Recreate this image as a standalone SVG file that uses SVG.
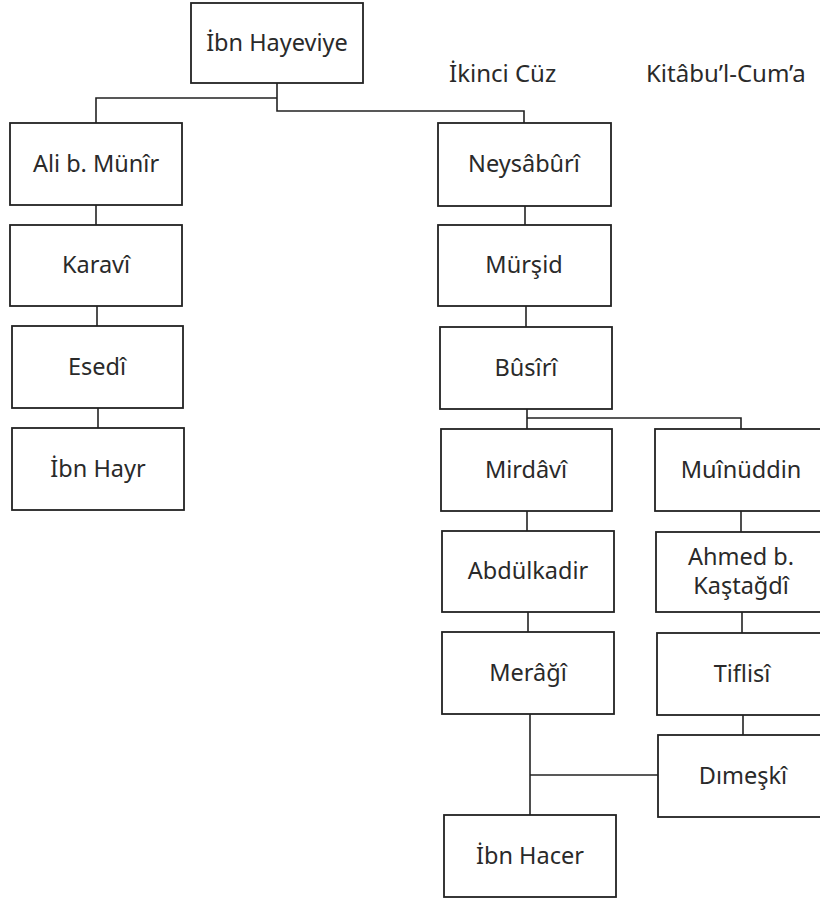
<svg xmlns="http://www.w3.org/2000/svg" width="820" height="900" viewBox="0 0 820 900">
<style>
.box{fill:#fff;stroke:#222;stroke-width:1.8}
.lbl{font-family:"Noto Sans","Open Sans",sans-serif;font-size:23.5px;fill:#2a2a2a;text-anchor:middle}
.hdr{font-family:"Noto Sans","Open Sans",sans-serif;font-size:24px;fill:#2a2a2a}
.con{fill:none;stroke:#222;stroke-width:1.6}
</style>
<rect width="820" height="900" fill="#fff"/>
<g id="connectors">
<path class="con" d="M277 83 V111 H524 V123"/>
<path class="con" d="M277 98 H96 V123"/>
<path class="con" d="M96 205 V225"/>
<path class="con" d="M97 306 V326"/>
<path class="con" d="M98 408 V428"/>
<path class="con" d="M525 206 V225"/>
<path class="con" d="M526 306 V327"/>
<path class="con" d="M527 409 V429"/>
<path class="con" d="M527 418 H741 V429"/>
<path class="con" d="M527 511 V531"/>
<path class="con" d="M528 612 V632"/>
<path class="con" d="M741 511 V532"/>
<path class="con" d="M742 612 V633"/>
<path class="con" d="M743 715 V735"/>
<path class="con" d="M530 714 V815"/>
<path class="con" d="M530 775 H658"/>
</g>
<g id="labels">
<text class="hdr" x="449" y="82">İkinci Cüz</text>
<text class="hdr" x="646" y="82">Kitâbu’l-Cum’a</text>
</g>
<g id="ibn-hayeviye"><rect class="box" x="191" y="3" width="172" height="80"/><text class="lbl" x="277" y="51">İbn Hayeviye</text></g>
<g id="ali-b-munir"><rect class="box" x="10" y="123" width="172" height="82"/><text class="lbl" x="96" y="172">Ali b. Münîr</text></g>
<g id="karavi"><rect class="box" x="10" y="225" width="172" height="81"/><text class="lbl" x="96" y="273">Karavî</text></g>
<g id="esedi"><rect class="box" x="12" y="326" width="171" height="82"/><text class="lbl" x="97" y="375">Esedî</text></g>
<g id="ibn-hayr"><rect class="box" x="12" y="428" width="172" height="82"/><text class="lbl" x="98" y="477">İbn Hayr</text></g>
<g id="neysaburi"><rect class="box" x="438" y="123" width="173" height="83"/><text class="lbl" x="524" y="172">Neysâbûrî</text></g>
<g id="mursid"><rect class="box" x="438" y="225" width="173" height="81"/><text class="lbl" x="524" y="273">Mürşid</text></g>
<g id="busiri"><rect class="box" x="440" y="327" width="172" height="82"/><text class="lbl" x="526" y="376">Bûsîrî</text></g>
<g id="mirdavi"><rect class="box" x="441" y="429" width="171" height="82"/><text class="lbl" x="526" y="478">Mirdâvî</text></g>
<g id="abdulkadir"><rect class="box" x="442" y="531" width="172" height="81"/><text class="lbl" x="528" y="579">Abdülkadir</text></g>
<g id="meragi"><rect class="box" x="442" y="632" width="172" height="82"/><text class="lbl" x="528" y="681">Merâğî</text></g>
<g id="ibn-hacer"><rect class="box" x="444" y="815" width="172" height="82"/><text class="lbl" x="530" y="864">İbn Hacer</text></g>
<g id="muinuddin"><rect class="box" x="655" y="429" width="175" height="82"/><text class="lbl" x="741" y="478">Muînüddin</text></g>
<g id="ahmed-b-kastagdi"><rect class="box" x="656" y="532" width="175" height="80"/><text class="lbl" x="741" y="565">Ahmed b.</text><text class="lbl" x="741" y="594">Kaştağdî</text></g>
<g id="tiflisi"><rect class="box" x="657" y="633" width="175" height="82"/><text class="lbl" x="742" y="682">Tiflisî</text></g>
<g id="dimeski"><rect class="box" x="658" y="735" width="175" height="82"/><text class="lbl" x="743" y="784">Dımeşkî</text></g>
</svg>
